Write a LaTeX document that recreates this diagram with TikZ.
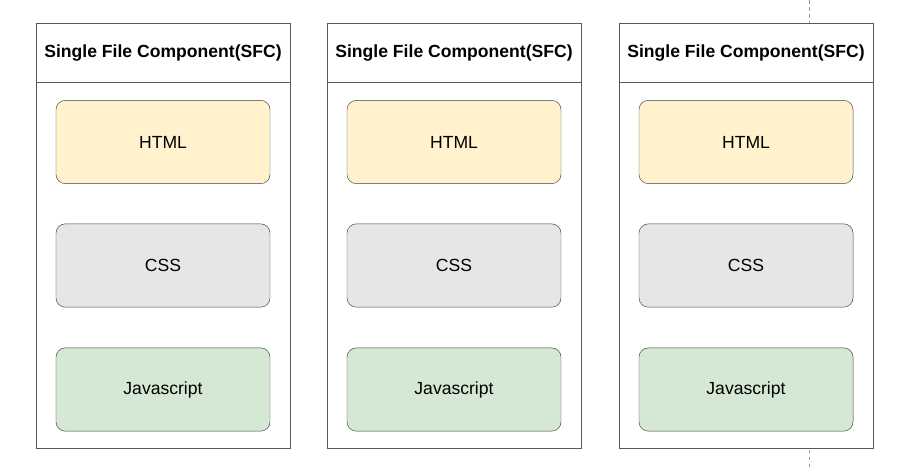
\documentclass[tikz,border=0pt]{standalone}
\usepackage{fontspec}
\setmainfont{Liberation Sans}
\usetikzlibrary{positioning}
\definecolor{htmlfill}{HTML}{FFF2CC}
\definecolor{cssfill}{HTML}{E6E6E6}
\definecolor{jsfill}{HTML}{D5E8D4}
\tikzset{
  panel/.style={rectangle, draw=black!65, fill=white, minimum width=7.62cm, minimum height=12.75cm, inner sep=0pt},
  header/.style={rectangle, draw=black!65, fill=white, minimum width=7.62cm, minimum height=1.77cm, font=\fontsize{15}{17}\selectfont\bfseries},
  part/.style={rectangle, draw=black!75, rounded corners=8pt, minimum width=6.42cm, minimum height=2.5cm, font=\fontsize{15}{17}\selectfont}
}
\begin{document}
\begin{tikzpicture}[x=0.03cm, y=-0.03cm]
\useasboundingbox (0,0) rectangle (904,470);
\draw [black!40, dashed] (809,0) -- (809,470);
\foreach \n/\x in {a/163, b/454, c/746}{
  \node [panel] (panel\n) at (\x,235.5) {};
  \node [header, below=0pt of panel\n.north] (head\n) {Single File Component(SFC)};
  \node [part, fill=htmlfill] (html\n) at (\x,142) {HTML};
  \node [part, fill=cssfill] (css\n) at (\x,265.5) {CSS};
  \node [part, fill=jsfill] (js\n) at (\x,389.5) {Javascript};
}
\end{tikzpicture}
\end{document}
